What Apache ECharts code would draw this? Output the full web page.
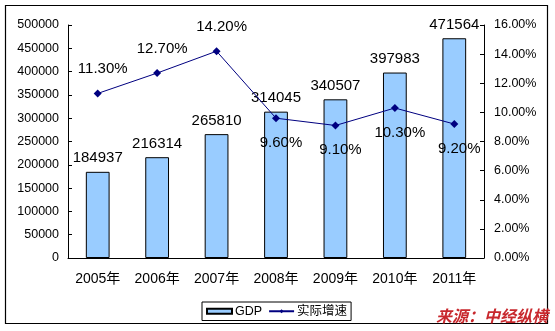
<!DOCTYPE html>
<html>
<head>
<meta charset="utf-8">
<script src="https://cdn.jsdelivr.net/npm/echarts@6/dist/echarts.min.js"></script>
<style>
html,body{margin:0;padding:0;background:#fff;}
#c{width:555px;height:331px;}
</style>
</head>
<body>
<div id="c"></div>
<script>
var categories = ['2005年','2006年','2007年','2008年','2009年','2010年','2011年'];
var gdpValues = [184937, 216314, 265810, 314045, 340507, 397983, 471564];
var growthValues = [11.3, 12.7, 14.2, 9.6, 9.1, 10.3, 9.2];
var seriesNames = ['GDP', '实际增速'];
var sourceText = '来源：中经纵横';

var FONT = '"Liberation Sans", Arial, "Noto Sans CJK SC", sans-serif';
var chart = echarts.init(document.getElementById('c'), null, {renderer: 'canvas'});

var lineData = growthValues.map(function (v, i) {
  return {
    value: v,
    label: i < 3 ? {position: 'top', distance: 13} : {position: 'bottom', distance: 13}
  };
});

chart.setOption({
  animation: false,
  backgroundColor: '#fff',
  textStyle: {fontFamily: FONT},
  grid: {left: 68, right: 71, top: 25, bottom: 73, containLabel: false},
  legend: {
    left: 202, top: 302,
    data: [{name: seriesNames[0], icon: 'rect'}, {name: seriesNames[1]}],
    itemWidth: 25, itemHeight: 5, itemGap: 6,
    padding: [3, 4, 3, 4],
    borderColor: '#000', borderWidth: 1, borderRadius: 0,
    textStyle: {fontSize: 12.5, color: '#000', fontFamily: FONT, padding: [0, 0, 0, -2]}
  },
  xAxis: {
    type: 'category',
    data: categories,
    boundaryGap: true,
    axisLine: {lineStyle: {color: '#000', width: 1}},
    axisTick: {inside: true, length: 4, lineStyle: {color: '#000'}},
    axisLabel: {fontSize: 14, color: '#000', margin: 14, fontFamily: FONT}
  },
  yAxis: [{
    type: 'value', min: 0, max: 500000, interval: 50000,
    splitLine: {show: false},
    axisLine: {show: true, lineStyle: {color: '#000', width: 1}},
    axisTick: {show: true, inside: true, length: 4, lineStyle: {color: '#000'}},
    axisLabel: {fontSize: 12.5, color: '#000', margin: 9, fontFamily: FONT,
      formatter: function (v) { return String(v); }}
  }, {
    type: 'value', min: 0, max: 16, interval: 2, position: 'right',
    splitLine: {show: false},
    axisLine: {show: true, lineStyle: {color: '#000', width: 1}},
    axisTick: {show: true, inside: true, length: 4, lineStyle: {color: '#000'}},
    axisLabel: {fontSize: 12.5, color: '#000', margin: 10, fontFamily: FONT,
      formatter: function (v) { return v.toFixed(2) + '%'; }}
  }],
  series: [{
    name: seriesNames[0],
    type: 'bar',
    data: gdpValues,
    barWidth: '40%',
    itemStyle: {color: '#99CCFF', borderColor: '#000', borderWidth: 1},
    label: {show: true, position: 'top', distance: 6, fontSize: 15, color: '#000', fontFamily: FONT}
  }, {
    name: seriesNames[1],
    type: 'line',
    yAxisIndex: 1,
    data: lineData,
    symbol: 'diamond',
    symbolSize: 8,
    lineStyle: {color: '#000080', width: 1},
    itemStyle: {color: '#000080'},
    label: {show: true, fontSize: 15, color: '#000', fontFamily: FONT, offset: [5, 0],
      formatter: function (p) { return p.value.toFixed(2) + '%'; }},
    z: 5
  }],
  graphic: [{
    type: 'rect',
    shape: {x: 5.5, y: 5.5, width: 542, height: 318},
    style: {fill: 'none', stroke: '#000', lineWidth: 1.2},
    silent: true, z: -1
  }, {
    type: 'text',
    right: 7, top: 308,
    style: {text: sourceText, fill: '#C8282D', fontSize: 16, fontWeight: 'bold', fontStyle: 'italic',
      fontFamily: '"Noto Sans CJK SC", sans-serif'},
    z: 10
  }]
});
</script>
</body>
</html>
